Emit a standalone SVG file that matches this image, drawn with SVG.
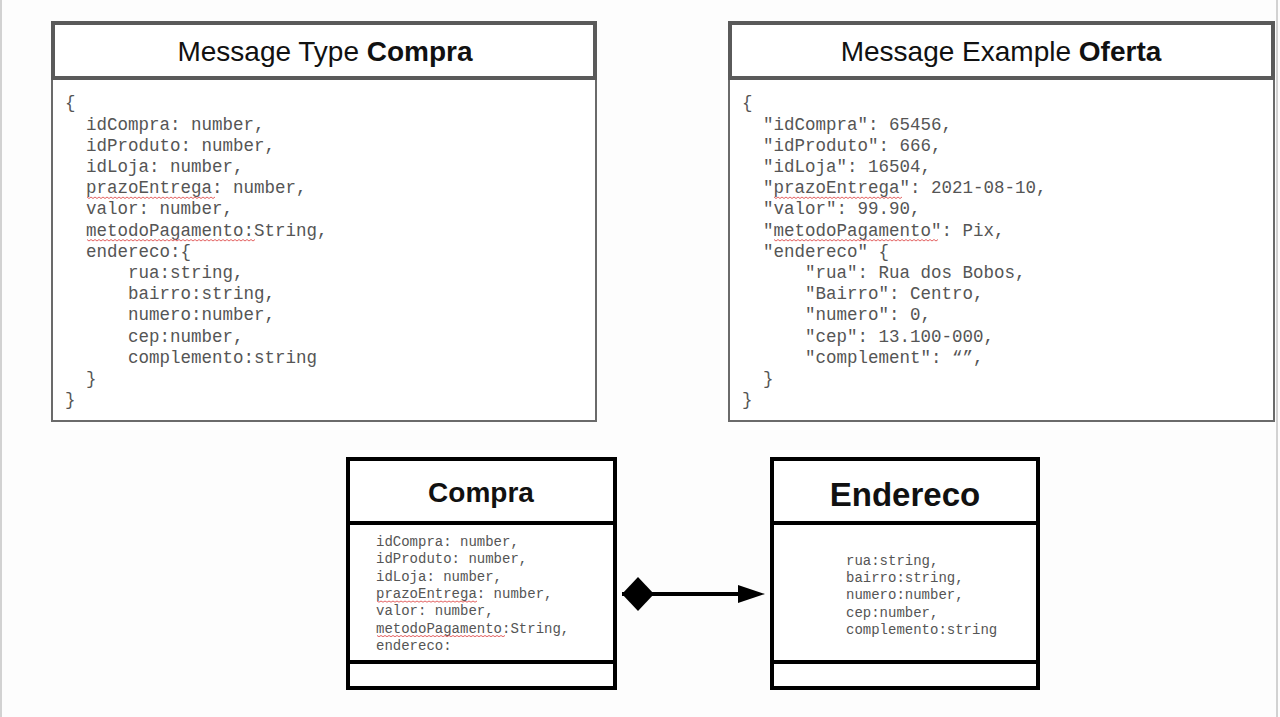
<svg xmlns="http://www.w3.org/2000/svg" width="1280" height="717" viewBox="0 0 1280 717">
<style>
.bg{fill:#fdfdfd}
.edge{stroke:#d2d2d2;stroke-width:2}
.hdr{fill:#ffffff;stroke:#5a5a5a;stroke-width:4}
.body{fill:#ffffff;stroke:#6a6a6a;stroke-width:2}
.title{font-family:"Liberation Sans",Arial,sans-serif;font-size:28px;fill:#111;text-anchor:middle}
.b{font-weight:bold}
.code{font-family:"Liberation Mono","Courier New",monospace;font-size:17.5px;fill:#555}
.uml{fill:#ffffff;stroke:#000;stroke-width:4}
.umlline{stroke:#000;stroke-width:4}
.umlt{font-family:"Liberation Sans",Arial,sans-serif;font-weight:bold;fill:#111;text-anchor:middle}
.attr{font-family:"Liberation Mono","Courier New",monospace;font-size:14px;fill:#555}
.sq{fill:none;stroke:#e05050;stroke-width:0.9}
.conn{stroke:#000;stroke-width:4;fill:none}
</style>
<defs>
<marker id="diamond" markerUnits="userSpaceOnUse" markerWidth="32" markerHeight="34" refX="0" refY="17" orient="auto">
<path d="M0,17 L16,0 L32,17 L16,34 Z" fill="#000"/>
</marker>
<marker id="arrow" markerUnits="userSpaceOnUse" markerWidth="27" markerHeight="18" refX="1" refY="9" orient="auto">
<path d="M0,0 L27,9 L0,18 Z" fill="#000"/>
</marker>
</defs>
<rect class="bg" x="0" y="0" width="1280" height="717"/>
<line class="edge" x1="1" y1="0" x2="1" y2="717"/>
<line class="edge" x1="1277" y1="0" x2="1277" y2="717"/>

<g id="message-type-compra">
<rect class="body" x="52" y="78" width="544" height="343"/>
<rect class="hdr" x="53" y="23" width="542" height="55"/>
<text class="title" x="325" y="61">Message Type <tspan class="b">Compra</tspan></text>
<text class="code" x="65" y="108">{</text>
<text class="code" x="86" y="129.5">idCompra: number,</text>
<text class="code" x="86" y="150.7">idProduto: number,</text>
<text class="code" x="86" y="171.9">idLoja: number,</text>
<text class="code" x="86" y="193.1">prazoEntrega: number,</text>
<text class="code" x="86" y="214.3">valor: number,</text>
<text class="code" x="86" y="235.5">metodoPagamento:String,</text>
<text class="code" x="86" y="256.7">endereco:{</text>
<text class="code" x="128" y="277.9">rua:string,</text>
<text class="code" x="128" y="299.1">bairro:string,</text>
<text class="code" x="128" y="320.3">numero:number,</text>
<text class="code" x="128" y="341.5">cep:number,</text>
<text class="code" x="128" y="362.7">complemento:string</text>
<text class="code" x="86" y="383.9">}</text>
<text class="code" x="65" y="405.1">}</text>
<path class="sq" d="M87,197 l2,1.5 l2,-1.5 l2,1.5 l2,-1.5 l2,1.5 l2,-1.5 l2,1.5 l2,-1.5 l2,1.5 l2,-1.5 l2,1.5 l2,-1.5 l2,1.5 l2,-1.5 l2,1.5 l2,-1.5 l2,1.5 l2,-1.5 l2,1.5 l2,-1.5 l2,1.5 l2,-1.5 l2,1.5 l2,-1.5 l2,1.5 l2,-1.5 l2,1.5 l2,-1.5 l2,1.5 l2,-1.5 l2,1.5 l2,-1.5 l2,1.5 l2,-1.5 l2,1.5 l2,-1.5 l2,1.5 l2,-1.5 l2,1.5 l2,-1.5 l2,1.5 l2,-1.5 l2,1.5 l2,-1.5 l2,1.5 l2,-1.5 l2,1.5 l2,-1.5 l2,1.5 l2,-1.5 l2,1.5 l2,-1.5 l2,1.5 l2,-1.5 l2,1.5 l2,-1.5 l2,1.5 l2,-1.5 l2,1.5 l2,-1.5 l2,1.5 l2,-1.5 l2,1.5 l2,-1.5"/>
<path class="sq" d="M87,239.5 l2,1.5 l2,-1.5 l2,1.5 l2,-1.5 l2,1.5 l2,-1.5 l2,1.5 l2,-1.5 l2,1.5 l2,-1.5 l2,1.5 l2,-1.5 l2,1.5 l2,-1.5 l2,1.5 l2,-1.5 l2,1.5 l2,-1.5 l2,1.5 l2,-1.5 l2,1.5 l2,-1.5 l2,1.5 l2,-1.5 l2,1.5 l2,-1.5 l2,1.5 l2,-1.5 l2,1.5 l2,-1.5 l2,1.5 l2,-1.5 l2,1.5 l2,-1.5 l2,1.5 l2,-1.5 l2,1.5 l2,-1.5 l2,1.5 l2,-1.5 l2,1.5 l2,-1.5 l2,1.5 l2,-1.5 l2,1.5 l2,-1.5 l2,1.5 l2,-1.5 l2,1.5 l2,-1.5 l2,1.5 l2,-1.5 l2,1.5 l2,-1.5 l2,1.5 l2,-1.5 l2,1.5 l2,-1.5 l2,1.5 l2,-1.5 l2,1.5 l2,-1.5 l2,1.5 l2,-1.5 l2,1.5 l2,-1.5 l2,1.5 l2,-1.5 l2,1.5 l2,-1.5 l2,1.5 l2,-1.5 l2,1.5 l2,-1.5 l2,1.5 l2,-1.5 l2,1.5 l2,-1.5 l2,1.5 l2,-1.5 l2,1.5 l2,-1.5 l2,1.5 l2,-1.5"/>
</g>

<g id="message-example-oferta">
<rect class="body" x="729" y="78" width="545" height="343"/>
<rect class="hdr" x="730" y="23" width="543" height="55"/>
<text class="title" x="1001" y="61">Message Example <tspan class="b">Oferta</tspan></text>
<text class="code" x="742" y="108">{</text>
<text class="code" x="763" y="129.5">"idCompra": 65456,</text>
<text class="code" x="763" y="150.7">"idProduto": 666,</text>
<text class="code" x="763" y="171.9">"idLoja": 16504,</text>
<text class="code" x="763" y="193.1">"prazoEntrega": 2021-08-10,</text>
<text class="code" x="763" y="214.3">"valor": 99.90,</text>
<text class="code" x="763" y="235.5">"metodoPagamento": Pix,</text>
<text class="code" x="763" y="256.7">"endereco" {</text>
<text class="code" x="805" y="277.9">"rua": Rua dos Bobos,</text>
<text class="code" x="805" y="299.1">"Bairro": Centro,</text>
<text class="code" x="805" y="320.3">"numero": 0,</text>
<text class="code" x="805" y="341.5">"cep": 13.100-000,</text>
<text class="code" x="805" y="362.7">"complement": “”,</text>
<text class="code" x="763" y="383.9">}</text>
<text class="code" x="742" y="405.1">}</text>
<path class="sq" d="M774,197 l2,1.5 l2,-1.5 l2,1.5 l2,-1.5 l2,1.5 l2,-1.5 l2,1.5 l2,-1.5 l2,1.5 l2,-1.5 l2,1.5 l2,-1.5 l2,1.5 l2,-1.5 l2,1.5 l2,-1.5 l2,1.5 l2,-1.5 l2,1.5 l2,-1.5 l2,1.5 l2,-1.5 l2,1.5 l2,-1.5 l2,1.5 l2,-1.5 l2,1.5 l2,-1.5 l2,1.5 l2,-1.5 l2,1.5 l2,-1.5 l2,1.5 l2,-1.5 l2,1.5 l2,-1.5 l2,1.5 l2,-1.5 l2,1.5 l2,-1.5 l2,1.5 l2,-1.5 l2,1.5 l2,-1.5 l2,1.5 l2,-1.5 l2,1.5 l2,-1.5 l2,1.5 l2,-1.5 l2,1.5 l2,-1.5 l2,1.5 l2,-1.5 l2,1.5 l2,-1.5 l2,1.5 l2,-1.5 l2,1.5 l2,-1.5 l2,1.5 l2,-1.5 l2,1.5 l2,-1.5"/>
<path class="sq" d="M774,239.5 l2,1.5 l2,-1.5 l2,1.5 l2,-1.5 l2,1.5 l2,-1.5 l2,1.5 l2,-1.5 l2,1.5 l2,-1.5 l2,1.5 l2,-1.5 l2,1.5 l2,-1.5 l2,1.5 l2,-1.5 l2,1.5 l2,-1.5 l2,1.5 l2,-1.5 l2,1.5 l2,-1.5 l2,1.5 l2,-1.5 l2,1.5 l2,-1.5 l2,1.5 l2,-1.5 l2,1.5 l2,-1.5 l2,1.5 l2,-1.5 l2,1.5 l2,-1.5 l2,1.5 l2,-1.5 l2,1.5 l2,-1.5 l2,1.5 l2,-1.5 l2,1.5 l2,-1.5 l2,1.5 l2,-1.5 l2,1.5 l2,-1.5 l2,1.5 l2,-1.5 l2,1.5 l2,-1.5 l2,1.5 l2,-1.5 l2,1.5 l2,-1.5 l2,1.5 l2,-1.5 l2,1.5 l2,-1.5 l2,1.5 l2,-1.5 l2,1.5 l2,-1.5 l2,1.5 l2,-1.5 l2,1.5 l2,-1.5 l2,1.5 l2,-1.5 l2,1.5 l2,-1.5 l2,1.5 l2,-1.5 l2,1.5 l2,-1.5 l2,1.5 l2,-1.5 l2,1.5 l2,-1.5 l2,1.5 l2,-1.5 l2,1.5 l2,-1.5"/>
</g>

<g id="compra">
<rect class="uml" x="348" y="459" width="267" height="229"/>
<line class="umlline" x1="348" y1="523" x2="615" y2="523"/>
<line class="umlline" x1="348" y1="662" x2="615" y2="662"/>
<text class="umlt" x="481" y="502" font-size="28">Compra</text>
<text class="attr" x="376" y="546">idCompra: number,</text>
<text class="attr" x="376" y="563.3">idProduto: number,</text>
<text class="attr" x="376" y="580.6">idLoja: number,</text>
<text class="attr" x="376" y="597.9">prazoEntrega: number,</text>
<text class="attr" x="376" y="615.2">valor: number,</text>
<text class="attr" x="376" y="632.5">metodoPagamento:String,</text>
<text class="attr" x="376" y="649.8">endereco:</text>
<path class="sq" d="M377,601 l2,1.2 l2,-1.2 l2,1.2 l2,-1.2 l2,1.2 l2,-1.2 l2,1.2 l2,-1.2 l2,1.2 l2,-1.2 l2,1.2 l2,-1.2 l2,1.2 l2,-1.2 l2,1.2 l2,-1.2 l2,1.2 l2,-1.2 l2,1.2 l2,-1.2 l2,1.2 l2,-1.2 l2,1.2 l2,-1.2 l2,1.2 l2,-1.2 l2,1.2 l2,-1.2 l2,1.2 l2,-1.2 l2,1.2 l2,-1.2 l2,1.2 l2,-1.2 l2,1.2 l2,-1.2 l2,1.2 l2,-1.2 l2,1.2 l2,-1.2 l2,1.2 l2,-1.2 l2,1.2 l2,-1.2 l2,1.2 l2,-1.2 l2,1.2 l2,-1.2 l2,1.2 l2,-1.2"/>
<path class="sq" d="M377,635.5 l2,1.2 l2,-1.2 l2,1.2 l2,-1.2 l2,1.2 l2,-1.2 l2,1.2 l2,-1.2 l2,1.2 l2,-1.2 l2,1.2 l2,-1.2 l2,1.2 l2,-1.2 l2,1.2 l2,-1.2 l2,1.2 l2,-1.2 l2,1.2 l2,-1.2 l2,1.2 l2,-1.2 l2,1.2 l2,-1.2 l2,1.2 l2,-1.2 l2,1.2 l2,-1.2 l2,1.2 l2,-1.2 l2,1.2 l2,-1.2 l2,1.2 l2,-1.2 l2,1.2 l2,-1.2 l2,1.2 l2,-1.2 l2,1.2 l2,-1.2 l2,1.2 l2,-1.2 l2,1.2 l2,-1.2 l2,1.2 l2,-1.2 l2,1.2 l2,-1.2 l2,1.2 l2,-1.2 l2,1.2 l2,-1.2 l2,1.2 l2,-1.2 l2,1.2 l2,-1.2 l2,1.2 l2,-1.2 l2,1.2 l2,-1.2 l2,1.2 l2,-1.2 l2,1.2 l2,-1.2"/>
</g>

<g id="endereco">
<rect class="uml" x="772" y="459" width="266" height="229"/>
<line class="umlline" x1="772" y1="523" x2="1038" y2="523"/>
<line class="umlline" x1="772" y1="662" x2="1038" y2="662"/>
<text class="umlt" x="905" y="506" font-size="33">Endereco</text>
<text class="attr" x="846" y="565">rua:string,</text>
<text class="attr" x="846" y="582.2">bairro:string,</text>
<text class="attr" x="846" y="599.4">numero:number,</text>
<text class="attr" x="846" y="616.6">cep:number,</text>
<text class="attr" x="846" y="633.8">complemento:string</text>
</g>

<g id="connectors">
<line class="conn" x1="622" y1="594" x2="739" y2="594" marker-start="url(#diamond)" marker-end="url(#arrow)"/>
</g>
</svg>
